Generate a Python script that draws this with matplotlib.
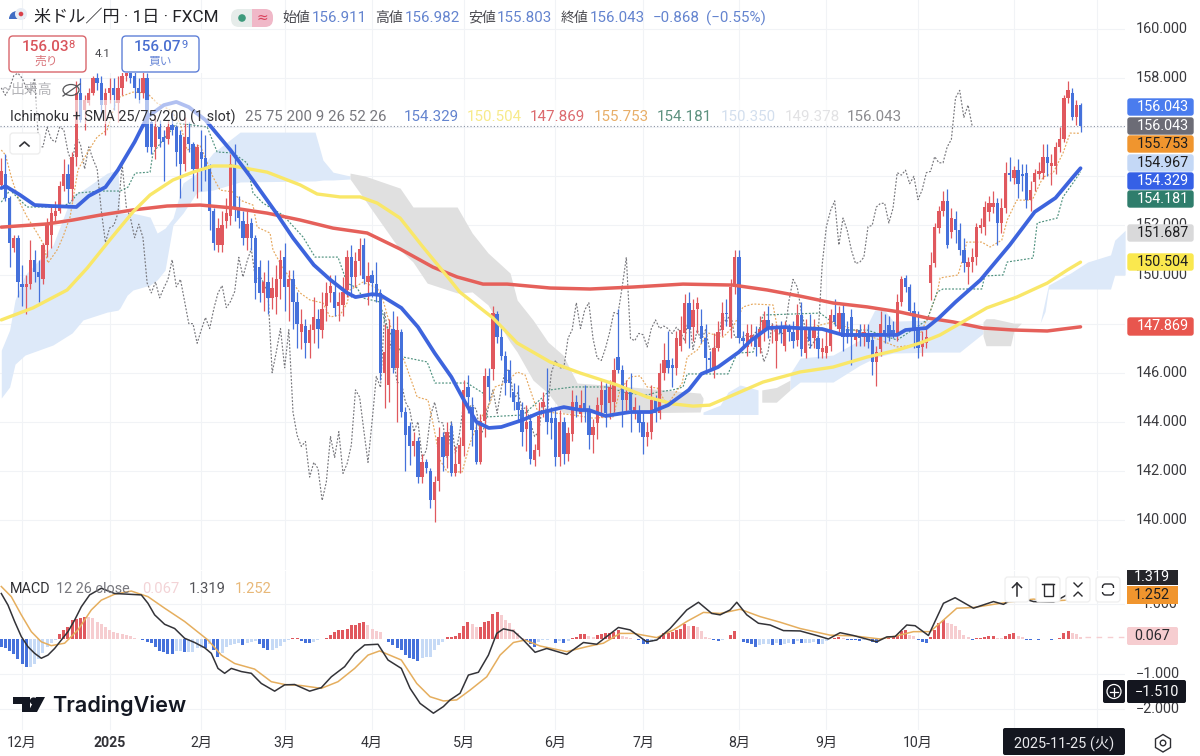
import matplotlib
matplotlib.use('Agg')
import matplotlib.pyplot as plt
from matplotlib.patches import FancyBboxPatch, Rectangle, Circle, Polygon, Wedge, Ellipse

plt.rcParams['font.family'] = ['Roboto', 'Noto Sans CJK JP', 'DejaVu Sans']

# candles
opens = [153.65,154.1,153.1,151.1,151.5,149.6,149.5,149.6,150.6,150.1,
    149.8,151.2,151.6,152.4,152.6,153.6,154.1,153.5,154.8,157.4,
    156.7,157.0,157.4,158.0,157.8,156.9,157.4,157.6,157.0,157.6,
    158.1,158.2,158.1,157.6,157.4,158.0,156.2,155.2,156.0,155.6,
    155.5,156.1,156.0,155.7,154.5,155.6,155.3,154.3,155.0,154.74,
    154.3,152.6,151.2,151.2,152.2,152.4,154.4,152.75,152.2,151.5,
    152.1,151.5,150.3,149.25,149.7,149.05,149.1,149.8,150.7,149.5,
    149.8,148.9,147.65,147.9,147.2,147.75,148.2,147.75,148.7,149.25,
    149.3,148.7,148.75,149.35,150.7,149.9,150.55,151.2,149.7,150.0,
    149.6,149.25,146.0,145.5,147.8,146.2,147.65,144.4,143.85,143.0,
    143.2,141.75,142.35,142.0,140.8,141.6,143.4,142.6,143.85,141.9,
    142.3,143.0,145.4,144.6,143.65,142.35,144.05,145.85,146.15,148.4,
    147.45,146.7,146.1,145.2,144.8,144.5,143.7,144.05,142.45,142.85,
    144.6,144.5,144.15,144.15,142.55,144.0,142.7,143.5,144.8,144.3,
    144.75,144.5,143.45,143.95,144.7,145.3,144.75,144.8,146.65,146.1,
    144.9,145.2,144.4,144.4,144.0,143.4,143.6,144.9,144.35,146.0,
    146.5,146.3,146.2,147.1,147.6,148.85,147.85,148.6,147.9,147.4,
    146.6,146.2,147.0,147.75,148.45,147.85,149.5,150.7,147.4,147.05,
    147.35,147.4,147.05,147.7,148.15,147.8,147.3,147.8,147.1,147.85,
    147.65,147.35,148.35,146.8,147.8,147.4,147.4,146.85,146.8,147.1,
    148.35,147.8,148.45,147.8,148.25,147.35,147.75,147.45,147.6,147.35,
    146.45,146.95,147.75,147.95,147.75,147.55,148.9,149.85,149.5,148.5,
    147.75,147.05,147.2,149.65,150.45,151.9,152.6,153.0,151.75,152.25,
    151.8,151.0,150.3,150.5,150.7,151.9,151.95,152.55,152.75,152.9,
    152.1,152.7,154.15,153.95,154.25,154.1,154.15,153.05,153.75,154.1,
    154.15,154.8,154.4,154.4,155.2,155.5,157.2,157.4,156.4,156.911]
highs = [154.75,154.9,153.2,151.6,151.6,150.4,150.0,151.4,151.0,150.6,
    151.3,152.3,152.8,153.0,153.8,154.7,154.5,155.0,157.9,158.0,
    157.3,157.6,158.1,158.2,158.1,157.6,158.0,158.0,158.1,158.4,
    158.5,158.6,158.6,158.0,158.3,158.2,156.3,156.5,156.3,155.9,
    156.3,156.6,156.1,155.9,156.4,156.2,155.4,155.3,155.9,155.7,
    154.5,152.7,152.3,152.6,153.1,154.9,155.3,153.2,152.6,152.6,
    152.3,151.6,150.6,150.1,150.6,149.9,150.4,151.0,151.3,150.2,
    150.2,149.3,148.6,148.2,148.0,149.1,148.6,149.3,149.7,150.0,
    150.0,149.3,149.9,151.0,151.2,150.9,151.5,151.5,150.5,150.2,
    150.5,149.4,148.0,148.2,148.5,148.3,147.8,144.6,144.0,143.6,
    143.4,142.7,142.5,142.1,141.8,143.8,143.6,144.0,144.0,143.0,
    143.4,145.7,145.9,145.0,144.0,144.3,146.2,146.2,148.7,148.5,
    147.9,146.9,146.5,145.6,145.5,144.8,144.7,144.3,143.1,144.8,
    145.2,146.2,144.6,144.5,144.5,144.2,143.8,145.3,145.1,145.3,
    145.5,144.7,144.1,145.0,145.7,145.6,145.7,146.6,148.6,146.3,
    145.7,146.0,145.0,144.7,144.4,144.0,145.5,145.1,146.4,147.2,
    147.7,146.6,147.7,148.3,149.2,149.3,149.0,149.1,148.6,148.0,
    146.9,147.6,148.1,148.9,149.0,149.8,151.0,151.0,147.7,148.0,
    148.0,147.9,148.3,148.5,148.7,148.0,148.0,148.1,148.1,148.0,
    148.1,148.8,148.9,148.2,148.4,148.2,147.8,147.4,147.7,148.6,
    149.0,148.7,148.8,148.1,148.6,147.8,148.0,148.0,148.0,147.6,
    147.1,148.5,148.4,148.3,148.1,149.2,149.95,150.0,149.6,148.9,
    148.5,147.7,147.9,150.9,152.1,152.8,153.4,153.5,152.7,152.6,
    152.1,151.5,150.7,151.1,152.1,152.3,153.0,153.2,153.4,153.1,
    153.1,154.6,154.8,154.4,154.7,154.5,154.5,153.8,154.3,154.6,
    155.3,155.3,154.9,155.4,156.0,157.3,157.9,157.6,157.1,156.982]
lows = [153.6,153.0,150.3,150.9,149.1,148.7,148.4,149.4,149.7,148.9,
    149.6,150.7,151.1,152.2,152.5,153.4,152.9,153.0,154.4,156.2,
    155.9,156.9,157.3,157.5,156.4,155.7,157.0,156.7,156.2,157.3,
    157.9,157.8,157.2,157.0,157.2,155.0,154.9,154.7,155.2,153.8,
    155.3,155.7,154.4,153.1,154.2,155.0,153.4,153.1,153.4,153.8,
    151.8,151.0,150.9,150.9,151.9,152.0,152.2,151.9,151.2,151.0,
    151.0,149.0,148.9,148.5,148.4,148.6,148.4,149.0,148.5,148.1,
    147.8,147.0,146.95,146.6,146.6,147.2,147.0,147.4,148.1,148.9,
    148.3,148.1,148.3,149.1,149.1,149.5,150.0,149.6,148.75,149.1,
    148.9,145.7,144.55,144.8,146.0,144.0,144.2,142.0,142.25,142.6,
    141.5,141.5,141.9,140.5,139.9,141.2,142.0,142.1,141.8,141.8,
    141.9,142.6,144.35,143.0,142.3,142.3,143.4,144.9,145.7,147.2,
    146.5,145.1,145.0,144.5,144.0,143.0,142.8,142.3,142.2,142.6,
    144.2,143.5,143.3,142.2,142.2,142.3,142.4,143.2,144.2,144.0,
    144.0,142.9,142.75,143.3,144.2,143.8,144.1,144.4,146.0,143.8,
    144.4,143.6,144.1,143.6,142.7,143.0,143.3,144.0,144.1,145.7,
    146.0,145.4,145.9,146.9,147.2,147.0,147.3,147.6,147.2,146.0,
    146.2,145.8,146.9,147.5,147.9,147.4,149.2,147.2,147.0,146.7,
    147.1,146.7,146.8,147.3,147.4,147.2,146.2,147.2,146.9,147.3,
    147.0,147.1,146.7,146.6,147.0,147.0,146.6,146.6,146.6,146.9,
    147.9,147.6,146.9,147.2,146.3,147.1,147.1,147.1,147.0,145.9,
    145.45,146.7,147.2,147.3,147.4,147.3,148.7,149.3,148.4,147.0,
    146.6,146.7,147.0,148.95,150.3,151.7,152.4,151.1,151.5,151.3,
    150.8,150.1,149.6,150.1,150.4,151.7,151.6,152.2,152.5,151.2,
    151.7,152.5,153.8,153.7,153.1,153.4,152.7,152.6,153.4,153.9,
    153.9,154.0,153.65,154.1,155.0,155.4,157.0,156.3,156.1,155.803]
closes = [154.2,153.1,151.3,151.5,149.7,149.5,149.6,150.6,150.1,149.9,
    151.2,152.1,152.5,152.6,153.6,154.1,153.5,154.8,157.4,156.3,
    157.1,157.4,158.0,157.8,156.9,157.4,157.6,157.3,157.6,158.1,
    158.2,158.0,157.6,157.4,158.0,155.2,155.2,156.0,155.5,155.4,
    156.0,155.9,155.0,154.5,155.6,155.3,154.3,155.2,154.7,154.3,
    152.6,151.3,151.9,152.0,152.5,154.5,152.75,152.3,151.5,152.05,
    151.5,149.65,149.25,149.7,149.05,149.45,149.8,150.6,149.5,149.8,
    148.9,148.0,148.0,147.2,147.75,148.25,147.8,148.6,149.25,149.55,
    148.65,148.9,149.3,150.7,149.9,150.55,151.05,149.8,149.95,149.65,
    149.25,146.0,146.85,147.8,146.2,147.75,144.4,143.45,143.0,143.2,
    141.75,142.35,142.1,140.8,141.55,143.4,142.55,143.6,141.9,142.3,
    143.05,145.3,145.0,143.65,142.35,144.05,145.85,145.4,148.45,147.45,
    146.7,145.6,145.6,144.8,144.5,143.6,144.0,142.5,142.85,144.25,
    144.8,144.0,143.95,142.55,144.0,142.7,143.55,144.8,144.55,144.7,
    144.5,143.45,143.8,144.7,145.3,144.35,145.4,146.1,146.1,144.9,
    145.2,144.5,144.6,143.95,143.4,143.6,144.9,144.35,146.0,146.5,
    146.2,146.2,147.4,147.75,148.85,147.8,148.55,148.85,147.4,146.6,
    146.5,147.0,147.65,148.45,148.4,149.5,150.7,147.4,147.3,147.6,
    147.55,147.05,147.8,148.15,147.8,147.9,147.8,147.6,147.85,147.65,
    147.3,148.35,146.95,147.75,147.3,147.75,146.95,147.0,147.1,148.35,
    148.05,148.45,147.45,147.45,147.45,147.55,147.4,147.65,147.25,146.45,
    146.85,148.0,147.55,147.6,147.6,148.9,149.8,149.5,148.5,147.75,
    147.0,147.25,147.45,150.4,151.95,152.6,153.0,151.2,152.3,151.8,
    151.0,150.45,150.5,150.7,151.95,152.0,152.75,152.9,152.9,152.1,
    152.7,154.15,154.05,154.25,153.7,154.0,153.05,153.45,154.15,154.2,
    154.8,154.55,154.55,155.2,155.5,157.2,157.5,156.4,156.9,156.043]

# moving averages: bar number, price
sma25_x = [0,1,4.5,8,12,18,21,25,28,32,35,39,42,45,49,55,60,66,70,75,79,83,85,89,91,96,100,104,108,111,
    114,117,120,125,129,135,139,141,145,151,156,160,165,168,172,177,180,184,188,191,197,202,208,215,217,222,225,229,235,242,248,253,257,259]
sma25_y = [153.52,153.6,153.24,152.83,152.79,152.75,153.2,153.56,154.26,155.4,156.41,156.9,157.03,156.82,156.29,155.07,153.93,152.5,151.49,150.39,149.78,149.25,149.08,149.2,149.16,148.64,147.86,146.8,145.83,144.89,
    144.0,143.75,143.79,144.07,144.36,144.6,144.48,144.48,144.24,144.4,144.4,144.68,145.3,145.95,146.23,146.84,147.33,147.82,147.86,147.82,147.78,147.54,147.54,147.54,147.74,147.82,148.23,148.88,149.78,151.2,152.55,153.12,153.93,154.329]
sma75_x = [0,7.6,15.8,20.6,26,31.6,35.7,41.2,46,50.8,55.6,63.8,71.7,75.8,81.3,86.1,90.2,95.7,101.2,107.7,110,118,123.8,131.7,138.9,147.8,155,161.2,166,170,175.6,182.8,191.7,199.6,207.8,215,220.5,225.3,229.4,236.5,243.7,251,255.8,259]
sma75_y = [148.15,148.64,149.37,150.26,151.4,152.55,153.24,153.85,154.17,154.42,154.42,154.17,153.65,153.28,153.16,153.16,152.91,152.3,151.12,149.78,149.29,148.23,147.21,146.44,145.99,145.5,145.01,144.73,144.64,144.68,145.09,145.62,146.03,146.23,146.64,146.92,147.21,147.54,147.94,148.64,149.08,149.65,150.18,150.504]
sma200_x = [0,11,17.2,23.7,31.6,39.8,47.7,55.6,63.8,71.7,79.6,87.8,95.7,103.6,109.4,115.6,121.4,131.7,141.3,151.6,163.6,175.6,183.8,191.7,199.6,207.8,215.7,222.2,228.4,235.6,242.8,251,259]
sma200_y = [151.93,152.06,152.22,152.42,152.63,152.79,152.83,152.71,152.5,152.22,151.89,151.69,151.04,150.3,149.9,149.61,149.61,149.45,149.41,149.49,149.61,149.57,149.37,149.12,148.84,148.68,148.47,148.23,148.07,147.82,147.74,147.7,147.869]

# ichimoku lines
tenkan_x = [0,1,2.6,4.5,6.2,8.6,10,11.2,13.4,14.8,16.5,18.4,20.6,23,25.4,27.8,31.6,35,37.4,40.5,42.9,44.6,47.7,50.8,52.5,55.6,57.3,60.4,61.4,64.5,65.2,66.9,70,71.7,74.1,77.2,78.9,81.3,83,83.7,86.8,90.2,91.4,93.3,96.9,99.8,102.4,103.6,105.3,107,110.6,112.5,114.4,117.3,118.5,120.9,123.8,125.7,128.6,132.9,137.2,142,146.8,148.5,150.9,153.3,155,157.4,159.8,163.4,164.6,167,169.6,173.2,175.6,178,180.4,185.2,186.2,191.7,199.6,207.8,215,219.3,222.4,224.6,225.3,229.6,230.8,231.7,235.3,237.3,240.1,241.4,243.7,247.4,250,252.4,254.8,256.5,259]
tenkan_y = [155.07,154.87,153.85,152.91,152.34,151.69,151.28,150.47,151.0,151.53,152.34,154.26,154.95,155.6,155.89,157.19,157.43,157.39,156.98,156.7,156.17,155.07,155.27,153.97,153.44,153.36,153.03,152.83,151.93,151.69,151.0,150.47,149.65,149.25,148.96,148.84,148.27,148.35,148.84,149.37,149.69,149.45,149.08,147.94,146.4,145.01,144.89,143.95,142.44,141.96,141.96,143.14,143.95,144.77,145.42,145.58,146.03,145.91,144.48,144.36,144.28,144.15,144.2,145.3,145.83,145.87,145.42,145.38,144.68,145.58,146.64,146.92,147.62,147.45,147.86,148.68,148.8,148.76,147.86,147.74,148.07,147.54,147.05,147.13,148.27,149.25,149.86,149.98,150.67,151.32,151.32,151.12,151.4,152.22,153.03,153.03,153.97,154.13,154.95,155.76,155.753]
kijun_x = [0,2.1,4.5,6.2,14.1,16.5,18.4,23.7,28.5,30.4,32.1,35.7,36.4,38.8,42.2,49.4,51.8,55.6,59,60.4,62.8,67.6,72.4,75.3,80.8,83,85.4,86.8,90.9,92.1,96.4,102.2,104.1,111.8,115.6,116.6,125.2,130,131.7,137.2,145.4,150.2,155,157.4,161.2,163.6,164.6,174.4,176.6,180.4,182.8,196.5,202,207.8,215,222.2,224.6,226,235.3,236,240.4,241.4,247.6,248.6,253.4,254.8,257.2,259]
kijun_y = [152.95,153.44,153.03,152.75,152.75,152.91,153.32,153.4,153.4,153.56,154.13,154.17,154.95,155.48,156.17,156.01,154.99,154.95,154.54,153.32,152.91,152.42,151.53,150.71,150.71,149.65,149.45,149.04,148.88,148.02,146.64,146.44,145.58,145.58,145.17,144.2,144.28,145.01,145.3,145.42,145.42,145.17,145.09,145.21,145.3,145.42,145.95,145.95,146.8,146.84,148.35,148.43,147.74,147.74,147.33,148.15,149.29,149.41,149.41,149.94,149.98,150.51,150.67,152.1,152.3,153.16,153.73,154.181]

# cloud pieces: bar number, upper edge, lower edge
blue1_x = [0,2,3.3,5.7,12.4,17,19.6,25.4,28,28.5,30.2,31.6,35.7,37.4,39.3,41.2,43.6,47,50.8,57.3,75.3,77.2,79.6,83.7]
blue1_top = [146.92,147.74,148.96,149.98,151.2,153.24,153.44,154.13,154.26,152.5,152.5,152.5,152.34,151.69,151.89,152.3,153.73,154.13,154.95,155.8,155.8,154.66,154.17,154.01]
blue1_bot = [144.97,145.42,146.35,146.72,147.13,147.62,148.15,148.47,148.55,148.64,149.16,149.37,149.57,149.78,150.18,152.02,152.5,153.36,153.44,153.77,153.81,153.85,153.85,153.89]
gray1_x = [83.7,87.3,95.7,98.8,102.2,109.4,113,116.8,122.1,123.8,127.6,131.2,134.8,138.2,148.5,167.7,168.4]
gray1_top = [154.13,154.01,153.52,152.75,152.75,152.75,151.69,150.88,150.06,148.96,148.15,147.25,146.72,145.58,145.46,145.17,144.97]
gray1_bot = [153.89,153.03,151.0,150.51,149.65,149.25,149.29,148.76,147.25,146.84,145.7,145.17,144.36,144.36,144.36,144.4,144.89]
blue2_x = [168.4,172.5,174.4,177.3,181.6]
blue2_top = [144.4,144.68,145.21,145.5,145.3]
blue2_bot = [144.3,144.3,144.3,144.3,144.3]
gray2_x = [182.5,186,189.3]
gray2_top = [145.3,145.4,145.7]
gray2_bot = [144.8,144.8,145.3]
blue3_x = [189.3,191.7,199.6,206,209.6,212,214,223.6,230,235.6]
blue3_top = [145.96,146.6,146.72,147.33,148.55,148.55,148.1,148.15,148.07,147.74]
blue3_bot = [145.3,145.62,145.62,146.3,146.6,146.72,146.8,146.84,146.84,147.6]
gray3_x = [235.6,236.3,238.2,242.2,243,244.8,249.3]
gray3_top = [148.07,148.2,148.2,148.05,148.02,148.02,148.02]
gray3_bot = [147.5,147.1,147.1,147.1,147.7,148.02,148.02]
blue4_x = [249.3,250.5,251.3,256.6,260.7,266.2,267.2,269.7]
blue4_top = [148.02,148.96,149.57,150.06,150.51,150.8,151.4,151.8]
blue4_bot = [148.02,148.5,149.41,149.41,149.41,149.41,149.98,149.98]

# macd pane
macd_x = [0,1.6,3.2,4.8,6.4,8,9.6,11.2,12.8,14.4,16,17.6,19.2,21.2,24,27.2,33.6,35.2,36.8,39.2,41.6,44,46.4,48.8,50.4,52,53.6,55.2,57.6,60,62.4,65.6,68,70.4,74,76.8,79.2,82.4,84.8,87.2,90.4,92.8,96,98.1,100.5,103.7,106.1,107.7,110.1,112.1,114.5,116.9,118.9,120.5,122.9,125.3,128.1,130.9,135.7,139.7,142.9,148.1,150.9,154.9,157.3,160.5,164.5,167.3,170.5,172.5,174.9,176.5,178.9,181.7,184.5,187.7,191.7,195.7,198.5,201.3,204.5,210.1,212.5,214.5,217.3,219.3,222.5,226.1,228.9,233.3,238.1,240.5,243.7,247.7,252.5,255.7,259]
macd_y = [1.30,0.97,0.50,0.07,-0.22,-0.41,-0.55,-0.46,-0.27,-0.03,0.21,0.54,0.92,1.26,1.45,1.30,1.26,1.02,0.69,0.42,0.30,0.02,-0.10,-0.25,-0.41,-0.84,-0.98,-0.84,-0.93,-0.98,-1.27,-1.49,-1.31,-1.30,-1.49,-1.39,-1.08,-0.79,-0.41,-0.17,-0.15,-0.60,-0.84,-1.41,-1.84,-2.12,-1.93,-1.74,-1.55,-1.03,-0.95,-0.46,0.16,0.29,0.23,-0.03,-0.38,-0.27,-0.44,-0.10,-0.15,0.33,0.26,-0.08,-0.03,0.30,0.83,1.05,0.73,0.69,0.83,1.05,0.69,0.45,0.40,0.24,0.23,0.10,0.0,0.18,0.10,-0.08,0.06,0.07,0.40,0.38,0.10,1.02,1.18,0.88,1.07,0.99,1.21,1.07,1.05,1.26,1.319]
signal_x = [0,2.4,4.8,7.2,9.6,12,15.2,18.4,21.6,24,27.2,31.2,35.2,39.2,44,49.6,52.8,56,60.8,64.8,68,72,76.8,80.8,84.8,88,90.8,96,99.7,102.9,106.1,109.3,112.5,116.5,119.7,122.9,125.7,129.3,135.7,140.5,144.5,148.5,151.7,157.3,161.3,164.5,168.5,172.5,177.3,182.1,186.9,191.7,198.9,204.5,210.9,214.9,218.9,222.9,226.1,229.3,233.3,238.1,242.9,247.7,252.5,255.7,259]
signal_y = [1.50,1.21,0.69,0.21,-0.08,-0.19,-0.12,0.26,0.83,1.11,1.28,1.37,1.21,0.88,0.50,-0.03,-0.46,-0.70,-0.86,-1.22,-1.30,-1.33,-1.41,-1.22,-0.84,-0.46,-0.34,-0.60,-1.27,-1.65,-1.77,-1.74,-1.46,-1.08,-0.46,-0.10,-0.03,-0.20,-0.36,-0.22,-0.12,0.16,0.16,0.04,0.26,0.50,0.76,0.73,0.85,0.64,0.48,0.30,0.11,0.09,0.0,0.09,0.21,0.21,0.54,0.88,0.90,0.99,1.07,1.14,1.09,1.11,1.252]
hist = [-.22,-.27,-.34,-.44,-.58,-.71,-.81,-.81,-.70,-.57,
    -.41,-.22,-.12,-.02,.14,.26,.35,.54,.56,.59,
    .64,.62,.59,.50,.42,.35,.26,.21,.16,.13,
    .11,.10,.04,.0,-.03,-.08,-.12,-.22,-.34,-.38,
    -.42,-.44,-.34,-.34,-.38,-.36,-.36,-.25,-.25,-.27,
    -.15,-.31,-.50,-.41,-.22,-.17,-.15,-.12,-.17,-.12,
    -.08,-.06,-.15,-.25,-.31,-.31,-.27,-.19,-.08,-.02,
    .02,.04,-.06,-.10,-.12,-.08,-.03,-.01,.04,.11,
    .21,.26,.26,.28,.40,.40,.45,.48,.40,.30,
    .24,.21,.0,-.08,-.17,-.25,-.31,-.46,-.55,-.57,
    -.62,-.55,-.50,-.50,-.31,-.17,-.08,.05,.05,.10,
    .16,.38,.50,.43,.35,.35,.50,.52,.72,.76,
    .70,.54,.45,.30,.16,.02,-.06,-.15,-.22,-.08,
    -.04,-.02,-.01,-.10,-.06,-.12,-.06,.04,.07,.13,
    .13,.10,.07,.11,.14,.16,.16,.21,.26,.10,
    .06,.03,.0,-.04,-.13,-.15,-.08,-.02,.07,.16,
    .18,.19,.26,.30,.42,.37,.38,.35,.23,.07,
    .02,-.03,-.06,-.02,.01,.11,.24,.0,-.08,-.12,
    -.15,-.22,-.17,-.15,-.15,-.17,-.12,-.17,-.15,-.10,
    -.14,-.06,-.12,-.10,-.10,-.08,-.14,-.14,-.06,.0,
    .03,.06,.02,-.02,-.03,-.04,-.06,-.02,-.04,-.08,
    -.10,-.04,.0,.02,.06,.10,.24,.26,.11,.08,
    -.03,-.08,-.10,.07,.26,.45,.54,.45,.42,.37,
    .26,.11,.05,-.02,.02,.03,.06,.10,.10,.04,
    .02,.10,.14,.16,.10,.06,-.02,-.03,.0,-.04,
    .0,.0,-.02,.01,.02,.16,.23,.16,.14,.067]

# time axis
month_x = [5,26,48,68,89,111,133,154,177,198,220,243,263]
month_labels = ['12月','2025','2月','3月','4月','5月','6月','7月','8月','9月','10月','','']
price_ticks = [160,158,156,154,152,150,148,146,144,142,140]
price_labels = {160:'160.000',158:'158.000',152:'152.000',150:'150.000',146:'146.000',144:'144.000',142:'142.000',140:'140.000'}
macd_ticks = [1,-1,-2]

UP = '#e0585e'
UP_LIGHT = '#f6cdd0'
DOWN = '#4571db'
DOWN_LIGHT = '#c6daf6'
GRID = '#f1f3f6'
DARK = '#2e2e33'
VALUE = '#6484cf'

fig = plt.figure(figsize=(12, 7.56), dpi=100, facecolor='white')
ax = fig.add_axes([0, 1 - 570/756, 1125/1200, 570/756])
ax2 = fig.add_axes([0, 1 - 730/756, 1125/1200, 159/756])
over = fig.add_axes([0, 0, 1, 1], zorder=5)
over.patch.set_alpha(0)
over.set_xlim(0, 1200)
over.set_ylim(756, 0)
over.axis('off')

for a in (ax, ax2):
    a.set_xlim(-0.31, 269.67)
    for s in a.spines.values():
        s.set_visible(False)
    a.set_xticks(month_x)
    a.set_xticklabels([])
    a.tick_params(length=0, labelleft=False)
    a.grid(True, color=GRID, lw=0.8)
    a.set_axisbelow(True)
ax.set_ylim(137.965, 161.181)
ax.set_yticks(price_ticks)
ax2.set_ylim(-2.6, 1.943)
ax2.set_yticks(macd_ticks)

# cloud
for xs, top, bot, col in [(blue1_x, blue1_top, blue1_bot, '#dde9f9'), (gray1_x, gray1_top, gray1_bot, '#e0e0e0'),
                          (blue2_x, blue2_top, blue2_bot, '#dde9f9'), (gray2_x, gray2_top, gray2_bot, '#e0e0e0'),
                          (blue3_x, blue3_top, blue3_bot, '#dde9f9'), (gray3_x, gray3_top, gray3_bot, '#e0e0e0'),
                          (blue4_x, blue4_top, blue4_bot, '#dde9f9')]:
    ax.fill_between(xs, bot, top, color=col, lw=0, zorder=1)

ax.plot(range(len(closes) - 26), closes[26:], color='#77777c', lw=0.85, ls=(0, (1.6, 1.4)), zorder=2)
ax.plot(tenkan_x, tenkan_y, color='#e6a85e', lw=0.85, ls=(0, (1.6, 1.4)), zorder=2)
ax.plot(kijun_x, kijun_y, color='#4e917e', lw=0.85, ls=(0, (1.6, 1.4)), zorder=2)
ax.axhline(closes[-1], color='#8a93a5', lw=0.8, ls=(0, (1, 2)), zorder=2)

# candles
for i in range(len(closes)):
    col = UP if closes[i] >= opens[i] else DOWN
    ax.vlines(i, lows[i], highs[i], color=col, lw=0.9, zorder=3)
    ax.bar(i, abs(closes[i] - opens[i]), bottom=min(opens[i], closes[i]), width=0.8, color=col, lw=0, zorder=3)

ax.plot(sma200_x, sma200_y, color='#e5605a', lw=2.5, zorder=4, solid_capstyle='round')
ax.plot(sma75_x, sma75_y, color='#f9e768', lw=2.4, zorder=4, solid_capstyle='round')
ax.plot(sma25_x, sma25_y, color='#3d64dd', lw=2.7, zorder=4, solid_capstyle='round')

# macd histogram, dark when the bar grows away from the previous one
for i, v in enumerate(hist):
    rising = i > 0 and v >= hist[i - 1]
    if v >= 0:
        col = UP if rising or i == 0 else UP_LIGHT
    else:
        col = DOWN if not rising else DOWN_LIGHT
    ax2.bar(i, v, width=0.72, color=col, lw=0, zorder=2)
ax2.hlines(hist[-1], 260, 269.67, color=UP_LIGHT, lw=1, ls=(0, (4, 4)), zorder=2)
ax2.plot(signal_x, signal_y, color='#e5ae5e', lw=1.1, zorder=3)
ax2.plot(macd_x, macd_y, color='#333338', lw=1.1, zorder=3)


def txt(x, y, s, color=DARK, size=10.4, ha='left', **kw):
    over.text(x, y, s, color=color, fontsize=size, ha=ha, va='center', **kw)


def price_tag(y0, y1, s, bg, fg):
    over.add_patch(FancyBboxPatch((1128, y0 + 1), 65, y1 - y0 - 2, boxstyle='round,pad=0,rounding_size=2', fc=bg, ec=bg, lw=1, zorder=6))
    over.text(1162.5, (y0 + y1) / 2, s, color=fg, fontsize=10.4, ha='center', va='center', zorder=7)


def icon_box(x, y, w, h, ec='#ececec', fc='white', lw=0.9, r=3):
    over.add_patch(FancyBboxPatch((x, y), w, h, boxstyle='round,pad=0,rounding_size=%d' % r, fc=fc, ec=ec, lw=lw))


# header
over.add_patch(Wedge((17, 19), 8, 180, 360, fc='#e8edf5', lw=0))
over.add_patch(Wedge((17, 19), 8, 180, 270, fc='#3f6cc4', lw=0))
over.add_patch(Wedge((17, 19), 8, 270, 360, fc='#e05050', lw=0))
over.add_patch(Wedge((21, 14), 6, 0, 360, fc='#e8edf5', lw=0))
over.add_patch(Circle((21, 14), 2.3, fc='#d9404a', lw=0))
txt(34, 17, '米ドル／円 · 1日 · FXCM', '#222226', 12.3)
over.add_patch(FancyBboxPatch((231, 9), 20, 18, boxstyle='round,pad=0,rounding_size=8', fc='#e6ecea', ec='none'))
over.add_patch(FancyBboxPatch((252, 9), 21, 18, boxstyle='round,pad=0,rounding_size=8', fc='#f0b8c8', ec='none'))
over.add_patch(Rectangle((252, 9), 8, 18, fc='#f0b8c8', lw=0))
over.add_patch(Rectangle((243, 9), 9, 18, fc='#e6ecea', lw=0))
over.add_patch(Circle((242, 18), 3.8, fc='#3d9a7c', lw=0))
txt(262, 17.5, '≈', '#d9405a', 10, ha='center', family=['DejaVu Sans'])

for x, s, col in [(282, '始値', '#4a4a50'), (312, '156.911', VALUE), (375, '高値', '#4a4a50'), (405, '156.982', VALUE),
                  (468, '安値', '#4a4a50'), (497, '155.803', VALUE), (561, '終値', '#4a4a50'), (590, '156.043', VALUE),
                  (653, '−0.868', VALUE), (706, '(−0.55%)', VALUE)]:
    txt(x, 18, s, col, 10.9 if col == VALUE else 10)

# bid and ask boxes, white behind them
over.add_patch(Rectangle((0, 30), 205, 43, fc='white', lw=0))
over.add_patch(FancyBboxPatch((9, 36), 77, 36, boxstyle='round,pad=0,rounding_size=4', fc='white', ec='#d9666c', lw=1))
over.add_patch(FancyBboxPatch((122, 36), 77, 36, boxstyle='round,pad=0,rounding_size=4', fc='white', ec='#5f80d8', lw=1))
txt(22, 47, '156.03', '#d9555c', 11, fontweight='medium')
txt(68, 45, '8', '#d9555c', 8)
txt(46, 61, '売り', '#d9747a', 8.5, ha='center')
txt(103, 54, '4.1', '#444448', 8.2, ha='center')
txt(134, 47, '156.07', '#4a6fd0', 11, fontweight='medium')
txt(181, 45, '9', '#4a6fd0', 8)
txt(160, 61, '買い', '#6f8cd8', 8.5, ha='center')

# legend rows
over.add_patch(Rectangle((0, 100), 905, 24, fc='white', alpha=0.6, lw=0))
txt(1, 90, '~', '#b4b4b8', 10)
txt(10, 90, '出来高', '#b4b4b8', 10)
over.add_patch(Ellipse((71, 90), 16, 11, fc='none', ec='#555558', lw=0.9))
over.plot([63, 80], [96, 84], color='#555558', lw=0.9)
txt(10, 117, 'Ichimoku + SMA 25/75/200 (1 slot)', '#303034', 10.4)
txt(245, 117, '25 75 200 9 26 52 26', '#78787e', 10.9)
for x, s, col in [(404, '154.329', '#6484cf'), (467, '150.504', '#f7ea8a'), (530, '147.869', '#dc6a6e'), (594, '155.753', '#e8ae68'),
                  (657, '154.181', '#5d917f'), (721, '150.350', '#d3dfee'), (785, '149.378', '#e2e2e4'), (847, '156.043', '#8c8c90')]:
    txt(x, 117, s, col, 10.9)
icon_box(10, 133, 30, 21)
over.plot([20, 24.5, 29], [146, 142, 146], color='#333338', lw=1.2)

txt(10, 589, 'MACD', '#303034', 10.4)
txt(56, 589, '12 26 close', '#78787e', 10.4)
txt(142, 589, '0.067', '#f3d3d6', 10.6)
txt(189, 589, '1.319', '#55555a', 10.6)
txt(235, 589, '1.252', '#e8b878', 10.6)

# price scale
for p, s in price_labels.items():
    y = (161.181 - p) / 0.04073
    txt(1188, y, s, '#3a3a3e', 10.4, ha='right')
price_tag(98, 116, '156.043', '#4a7cee', 'white')
price_tag(117, 135, '156.043', '#6c6c76', 'white')
price_tag(135, 153, '155.753', '#f0952e', '#1e1e20')
price_tag(154, 172, '154.967', '#c4d8f6', '#1e1e20')
price_tag(172, 190, '154.329', '#3560e6', 'white')
price_tag(190, 208, '154.181', '#2f7d6c', 'white')
price_tag(224, 242, '151.687', '#d9d9da', '#1e1e20')
price_tag(253, 271, '150.504', '#fae84e', '#1e1e20')
price_tag(317, 336, '147.869', '#e8564e', 'white')

# macd scale
txt(1178, 604, '1.000', '#3a3a3e', 10.4, ha='right')
txt(1180, 674, '−1.000', '#3a3a3e', 10.4, ha='right')
txt(1180, 709, '−2.000', '#3a3a3e', 10.4, ha='right')
over.add_patch(Rectangle((1127, 570), 51, 15, fc='#26262a', lw=0, zorder=6))
over.text(1152, 577, '1.319', color='white', fontsize=10.4, ha='center', va='center', zorder=7)
over.add_patch(Rectangle((1127, 586), 51, 18, fc='#f0952e', lw=0, zorder=6))
over.text(1152, 595, '1.252', color='#1e1e20', fontsize=10.4, ha='center', va='center', zorder=7)
over.add_patch(FancyBboxPatch((1127, 627), 51, 18, boxstyle='round,pad=0,rounding_size=2', fc='#f6cdd0', ec='none'))
txt(1152, 636, '0.067', '#2a2a2e', 10.4, ha='center')
over.add_patch(FancyBboxPatch((1103, 680), 22, 23, boxstyle='round,pad=0,rounding_size=2', fc='#14161f', ec='none', zorder=6))
over.add_patch(Circle((1114, 691.5), 7, fc='none', ec='white', lw=0.9, zorder=7))
over.plot([1110, 1118], [691.5, 691.5], color='white', lw=0.9, zorder=7)
over.plot([1114, 1114], [687.5, 695.5], color='white', lw=0.9, zorder=7)
over.add_patch(FancyBboxPatch((1127, 680), 59, 23, boxstyle='round,pad=0,rounding_size=2', fc='#14161f', ec='none', zorder=6))
over.text(1157, 691.5, '−1.510', color='white', fontsize=10.4, ha='center', va='center', zorder=7)

# pane buttons
for x in [1005, 1036, 1066, 1096]:
    icon_box(x, 577, 24, 25, ec='#eeeeee')
over.plot([1017, 1017], [583, 596], color='#2a2a2e', lw=1.1)
over.plot([1012.5, 1017, 1021.5], [587.5, 583, 587.5], color='#2a2a2e', lw=1.1)
over.add_patch(Rectangle((1043.5, 584), 9, 12, fc='none', ec='#2a2a2e', lw=1))
over.plot([1042, 1054], [584, 584], color='#2a2a2e', lw=1)
over.plot([1074, 1078, 1082], [583, 587, 583], color='#2a2a2e', lw=1)
over.plot([1074, 1078, 1082], [596, 592, 596], color='#2a2a2e', lw=1)
over.add_patch(FancyBboxPatch((1102.5, 584), 11, 11, boxstyle='round,pad=0,rounding_size=3', fc='none', ec='#2a2a2e', lw=1))
over.add_patch(Rectangle((1100, 587.5), 16, 4, fc='white', lw=0))

# time labels
for i, s in zip(month_x, month_labels):
    x = 1.3 + 4.167 * i
    txt(x, 743, s, '#333338', 10.2, ha='center', fontweight='bold' if s == '2025' else 'normal')
over.add_patch(FancyBboxPatch((1003, 728), 122, 27, boxstyle='round,pad=0,rounding_size=2', fc='#14161f', ec='none'))
txt(1064, 743, '2025-11-25 (火)', '#e8e8ec', 10.4, ha='center')
over.add_patch(Polygon([(1163, 734.5), (1170.5, 739), (1170.5, 747.5), (1163, 752), (1155.5, 747.5), (1155.5, 739)], fc='none', ec='#2e2e33', lw=1))
over.add_patch(Circle((1163, 743), 2.8, fc='none', ec='#2e2e33', lw=1))

# logo
over.add_patch(Polygon([(13, 697), (30, 697), (30, 712), (22, 712), (22, 704), (13, 704)], fc='#131722', lw=0))
over.add_patch(Circle((33.5, 701), 3.6, fc='#131722', lw=0))
over.add_patch(Polygon([(37, 712), (28, 712), (36, 697), (45, 697)], fc='#131722', lw=0))
txt(52, 705, 'TradingView', '#131722', 15.6, fontweight='semibold', family=['Inter'])

fig.savefig('out.png', dpi=100)
